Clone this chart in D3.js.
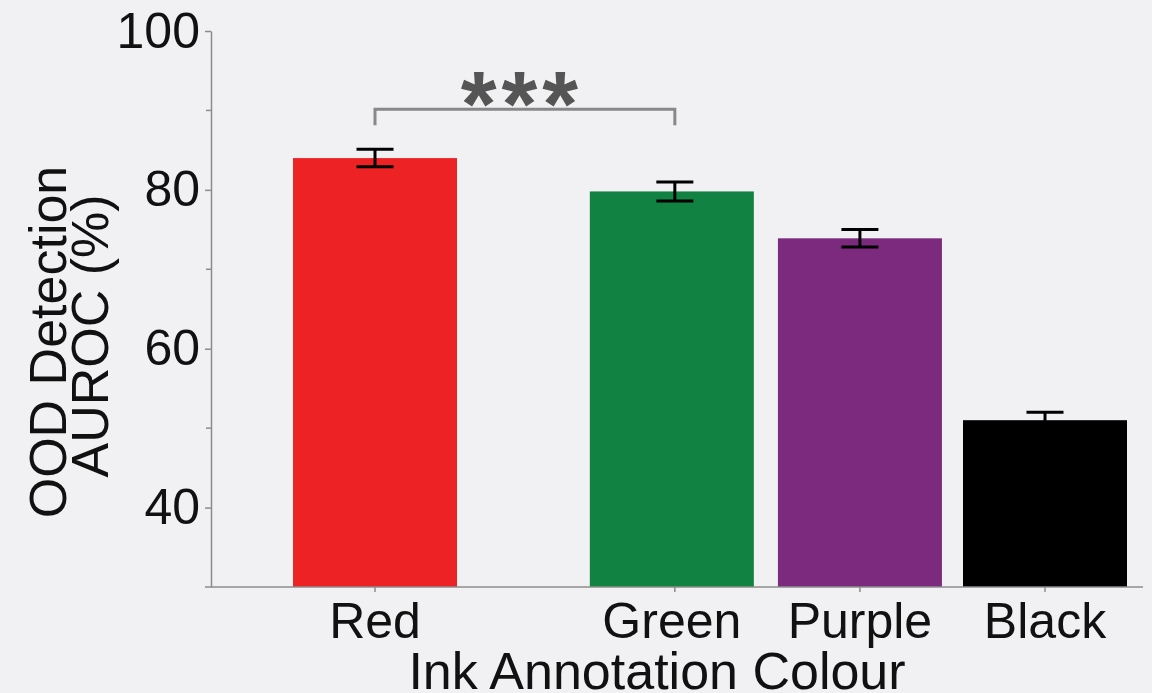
<!DOCTYPE html>
<html>
<head>
<meta charset="utf-8">
<script src="https://cdn.jsdelivr.net/npm/d3@7"></script>
<style>
  html, body { margin: 0; padding: 0; background: #f1f1f3; }
  svg { display: block; font-family: "Liberation Sans", Arial, Helvetica, sans-serif; }
</style>
</head>
<body>
<svg id="chart" width="1152" height="693"></svg>
<script>
// Ink colour categories and their OOD detection AUROC (mean ± error)
const categories = ["Red", "Green", "Purple", "Black"];
const aurocMean = [84.0, 79.8, 73.9, 51.0];
const aurocErr = [1.1, 1.2, 1.1, 1.0];
const barColors = ["#ed2224", "#118241", "#7b2a7e", "#000000"];
const yMajorTicks = [40, 60, 80, 100];
const yMinorTicks = [50, 70, 90];
// significance bracket between the first two categories
const sigPair = ["Red", "Green"];
const sigLabel = "***";

const svg = d3.select("#chart");

const axisX = 211, axisY = 587, topY = 31;
const y = d3.scaleLinear().domain([30, 100]).range([axisY, topY]);

// Red sits apart from the other three; extra spacing after the first slot
const extraGap = 0.62;
const slot = categories.map((c, i) => i === 0 ? 0 : i + extraGap);
const x = d3.scaleLinear().domain([0, 3 + extraGap]).range([375, 1045]);
const xc = c => x(slot[categories.indexOf(c)]);
const barW = 164;

const axisColor = "#8c8c8c";

// bars
svg.append("g").selectAll("rect")
  .data(categories)
  .join("rect")
  .attr("x", (c) => xc(c) - barW / 2 - (c === "Green" ? 3 : 0))
  .attr("width", barW)
  .attr("y", (c, i) => y(aurocMean[i]))
  .attr("height", (c, i) => axisY - y(aurocMean[i]))
  .attr("fill", (c, i) => barColors[i]);

// error bars
const eb = svg.append("g").attr("stroke", "#000").attr("stroke-width", 3).attr("fill", "none");
categories.forEach((c, i) => {
  const cx = xc(c);
  const hi = y(aurocMean[i] + aurocErr[i]);
  const lo = y(aurocMean[i] - aurocErr[i]);
  const cap = 18.5;
  eb.append("line").attr("x1", cx).attr("x2", cx).attr("y1", hi).attr("y2", lo);
  eb.append("line").attr("x1", cx - cap).attr("x2", cx + cap).attr("y1", hi).attr("y2", hi);
  if (c !== "Black") {
    eb.append("line").attr("x1", cx - cap).attr("x2", cx + cap).attr("y1", lo).attr("y2", lo);
  }
});

// y axis
const yAxis = d3.axisLeft(y).tickValues(yMajorTicks).tickSize(6).tickPadding(5).tickSizeOuter(0);
const gy = svg.append("g").attr("transform", `translate(${axisX},0)`).call(yAxis);
gy.select(".domain").attr("stroke", axisColor).attr("stroke-width", 1.5);
gy.selectAll(".tick line").attr("stroke", axisColor).attr("stroke-width", 1.5);
gy.selectAll(".tick text").attr("font-size", 50).attr("fill", "#111")
  .attr("font-family", "Liberation Sans, Arial, sans-serif").attr("dy", "0.32em");
gy.append("g").selectAll("line").data(yMinorTicks).join("line")
  .attr("x1", -5).attr("x2", 0).attr("y1", d => y(d)).attr("y2", d => y(d))
  .attr("stroke", axisColor).attr("stroke-width", 1.5);

// x axis
svg.append("line").attr("x1", axisX - 6).attr("x2", 1143).attr("y1", axisY).attr("y2", axisY)
  .attr("stroke", axisColor).attr("stroke-width", 1.5);
const gx = svg.append("g");
gx.selectAll("line").data(categories).join("line")
  .attr("x1", c => xc(c)).attr("x2", c => xc(c)).attr("y1", axisY).attr("y2", axisY + 5)
  .attr("stroke", axisColor).attr("stroke-width", 1.5);
gx.selectAll("text").data(categories).join("text")
  .attr("x", c => xc(c) - (c === "Green" ? 3 : 0)).attr("y", 638)
  .attr("text-anchor", "middle").attr("font-size", 50).attr("fill", "#111")
  .text(c => c);

// axis titles
svg.append("text").attr("x", 657).attr("y", 689).attr("text-anchor", "middle")
  .attr("font-size", 52).attr("fill", "#111").text("Ink Annotation Colour");
const yt = svg.append("g").attr("fill", "#111").attr("font-size", 52).attr("text-anchor", "middle");
yt.append("text").attr("transform", "translate(66,342) rotate(-90)").text("OOD Detection");
yt.append("text").attr("transform", "translate(108,336) rotate(-90)").text("AUROC (%)");

// significance bracket
const bx1 = xc(sigPair[0]), bx2 = xc(sigPair[1]);
const by = y(aurocMean[0] + aurocErr[0]) - 40;
svg.append("path")
  .attr("d", `M${bx1},${by + 16}V${by}H${bx2}V${by + 16}`)
  .attr("fill", "none").attr("stroke", "#888").attr("stroke-width", 3);
svg.append("text").attr("x", (bx1 + bx2) / 2 - 3).attr("y", by + 27)
  .attr("text-anchor", "middle").attr("font-size", 92).attr("font-weight", "bold")
  .attr("letter-spacing", 5)
  .attr("fill", "#555").text(sigLabel);
</script>
</body>
</html>
